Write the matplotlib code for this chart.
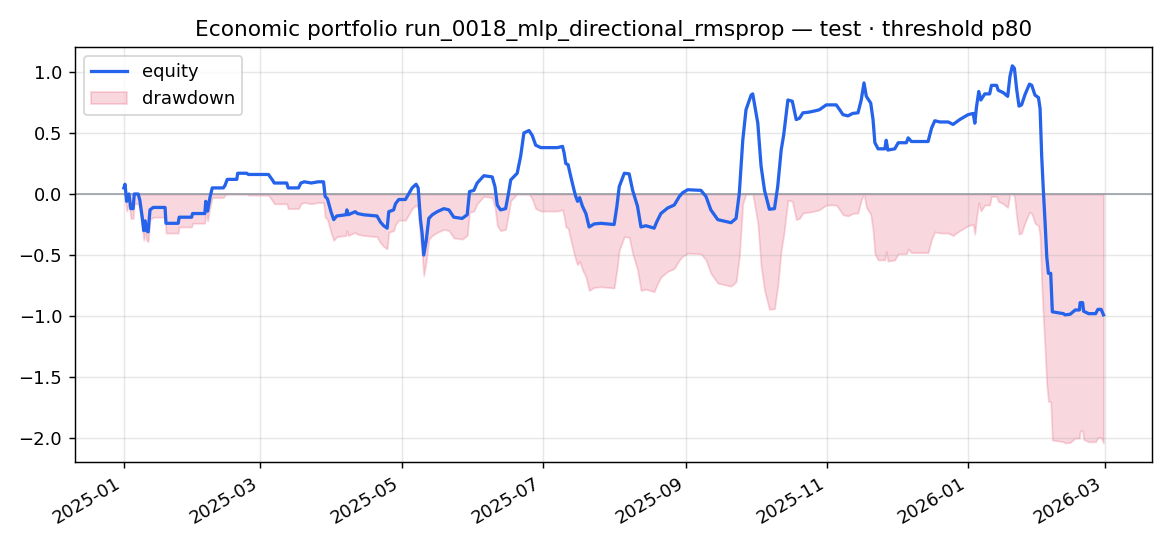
import matplotlib
matplotlib.use("Agg")
import matplotlib.pyplot as plt
import numpy as np
import pandas as pd

start_date = "2025-01-01"
# days since start_date, equity value
days = [0, 0.5, 1.2, 2.2, 3.0, 4.0, 4.5, 6.2, 6.9, 8.0, 8.6, 9.2, 9.8, 10.5, 11.3, 12.7,
        17.8, 18.2, 23.5, 23.9, 29.3, 29.7, 35.0, 35.4, 36.2, 37.2, 38.2, 43.0, 43.7, 44.7,
        48.8, 49.2, 53.1, 53.8, 62.5, 64.2, 65.0, 70.4, 71.0, 75.5, 76.5, 78.0, 81.0, 84.0,
        86.3, 87.0, 88.0, 89.6, 90.7, 92.0, 96.0, 96.4, 97.0, 100.0, 101.0, 103.6, 109.4,
        110.9, 112.3, 113.8, 114.5, 116.6, 117.4, 118.8, 121.7, 123.1, 124.6, 126.3, 127.2,
        128.2, 128.9, 129.6, 130.7, 131.8, 133.3, 135.4, 138.3, 140.5, 142.6, 146.2, 148.4,
        149.4, 151.3, 152.7, 155.6, 159.2, 160.4, 161.4, 162.8, 165.0, 166.2, 167.2, 170.0,
        171.5, 172.9, 175.1, 176.5, 178.0, 180.2, 182.3, 187.4, 189.6, 190.3, 191.0, 192.0,
        193.2, 194.6, 195.3, 196.1, 197.0, 198.2, 199.7, 201.1, 203.3, 206.2, 211.9, 213.1,
        214.1, 216.3, 218.4, 219.9, 222.0, 223.5, 225.6, 227.5, 229.2, 230.4, 232.1, 235.0,
        237.9, 240.1, 241.5, 243.7, 249.4, 251.6, 253.7, 256.7, 262.4, 264.6, 266.0, 267.5,
        268.9, 271.1, 271.8, 274.0, 275.4, 276.9, 279.0, 281.2, 282.6, 284.1, 285.2, 287.0,
        288.9, 290.6, 292.0, 293.5, 296.0, 298.5, 300.6, 303.6, 307.9, 309.4, 310.8, 313.0,
        315.0, 317.3, 318.7, 319.9, 320.9, 322.8, 323.8, 324.6, 326.0, 328.9, 329.5, 330.2,
        333.2, 334.7, 338.2, 339.0, 340.4, 347.6, 349.1, 350.5, 352.7, 356.3, 358.4, 361.3,
        364.9, 367.1, 367.8, 368.5, 369.5, 370.4, 372.1, 374.2, 375.0, 377.2, 377.9, 380.1,
        382.0, 383.0, 384.0, 384.9, 385.9, 386.9, 388.0, 389.5, 391.4, 392.4, 393.8, 395.3,
        396.0, 396.7, 397.4, 398.1, 398.9, 399.6, 400.6, 401.3, 406.1, 406.8, 409.0, 411.2,
        413.0, 413.3, 414.4, 414.8, 417.0, 420.0, 421.0, 422.4, 423.4]
equity = [0.05, 0.08, -0.06, 0.0, -0.12, -0.12, 0.0, 0.0, -0.05, -0.20, -0.30, -0.22, -0.30, -0.31, -0.13, -0.11,
          -0.11, -0.24, -0.24, -0.19, -0.19, -0.16, -0.16, -0.06, -0.14, -0.03, 0.05, 0.05, 0.07, 0.12,
          0.12, 0.17, 0.17, 0.16, 0.16, 0.115, 0.09, 0.09, 0.05, 0.05, 0.09, 0.10, 0.09, 0.10,
          0.10, -0.02, -0.04, -0.15, -0.21, -0.18, -0.17, -0.13, -0.17, -0.145, -0.16, -0.17, -0.18,
          -0.23, -0.26, -0.28, -0.145, -0.13, -0.08, -0.045, -0.045, 0.0, 0.05, 0.08, 0.05,
          -0.21, -0.32, -0.50, -0.38, -0.20, -0.17, -0.145, -0.12, -0.13, -0.19, -0.20, -0.17,
          0.02, 0.03, 0.09, 0.15, 0.14, 0.06, -0.09, -0.13, -0.12, 0.0, 0.115, 0.17,
          0.31, 0.50, 0.52, 0.48, 0.40, 0.38, 0.38, 0.38, 0.39, 0.335, 0.25, 0.24,
          0.14, 0.03, -0.02, -0.06, -0.03, -0.10, -0.16, -0.27, -0.245, -0.24, -0.25, -0.10,
          0.06, 0.17, 0.165, 0.03, -0.10, -0.27, -0.26, -0.27, -0.28, -0.225, -0.16, -0.115,
          -0.09, -0.02, 0.01, 0.035, 0.03, -0.02, -0.13, -0.21, -0.235, -0.20, 0.005, 0.44,
          0.69, 0.81, 0.82, 0.58, 0.23, 0.03, -0.125, -0.12, 0.06, 0.36, 0.485, 0.77,
          0.76, 0.61, 0.62, 0.665, 0.67, 0.68, 0.69, 0.73, 0.73, 0.69, 0.65, 0.64,
          0.66, 0.665, 0.77, 0.91, 0.80, 0.745, 0.61, 0.42, 0.37, 0.37, 0.44, 0.36,
          0.37, 0.42, 0.42, 0.46, 0.43, 0.43, 0.54, 0.60, 0.59, 0.59, 0.57, 0.61,
          0.65, 0.66, 0.58, 0.71, 0.84, 0.77, 0.82, 0.82, 0.89, 0.89, 0.85, 0.83,
          0.80, 0.965, 1.05, 1.03, 0.855, 0.72, 0.73, 0.815, 0.90, 0.89, 0.81, 0.79,
          0.70, 0.31, 0.035, -0.21, -0.515, -0.65, -0.65, -0.965, -0.98, -0.99, -0.985, -0.95,
          -0.95, -0.89, -0.89, -0.96, -0.98, -0.98, -0.945, -0.945, -0.99]

title = "Economic portfolio run_0018_mlp_directional_rmsprop — test · threshold p80"

dates = pd.Timestamp(start_date) + pd.to_timedelta(np.array(days), unit="D")
eq = np.array(equity)
drawdown = eq - np.maximum.accumulate(eq)

fig, ax = plt.subplots(figsize=(9, 4.2), dpi=130)
ax.plot(dates, eq, color="#2563eb", lw=1.8, label="equity", zorder=3)
ax.fill_between(dates, drawdown, 0, color="crimson", alpha=0.17, label="drawdown")
ax.axhline(0, color="#8a949e", lw=1.0, alpha=0.8, zorder=2)
ax.grid(True, alpha=0.3)
ax.set_title(title, fontsize=12)
ax.legend(loc="upper left")
fig.autofmt_xdate()
fig.subplots_adjust(left=0.064, right=0.985, top=0.914, bottom=0.154)
fig.savefig("out.png", dpi=130)
